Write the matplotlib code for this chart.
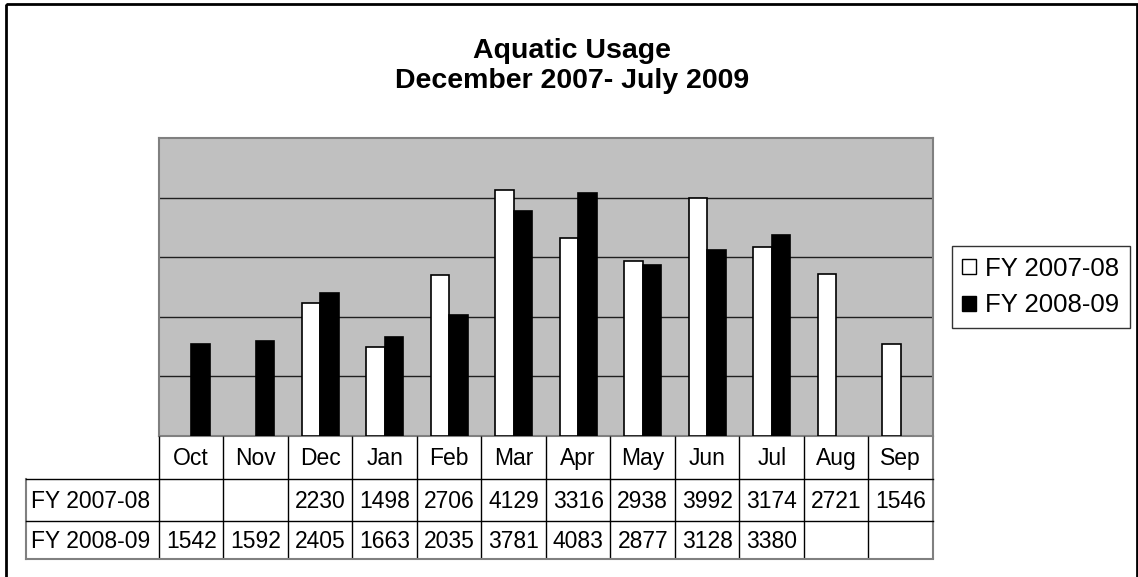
import numpy as np
import matplotlib
matplotlib.use("Agg")
import matplotlib.pyplot as plt
from matplotlib.patches import Patch, Rectangle

plt.rcParams['font.family'] = ['Liberation Sans', 'DejaVu Sans']

# ---- data ----
months = ['Oct', 'Nov', 'Dec', 'Jan', 'Feb', 'Mar', 'Apr', 'May', 'Jun', 'Jul', 'Aug', 'Sep']
fy0708 = [None, None, 2230, 1498, 2706, 4129, 3316, 2938, 3992, 3174, 2721, 1546]
fy0809 = [1542, 1592, 2405, 1663, 2035, 3781, 4083, 2877, 3128, 3380, None, None]
series_names = ['FY 2007-08', 'FY 2008-09']
title = 'Aquatic Usage\nDecember 2007- July 2009'

W, H = 1138, 577
fig = plt.figure(figsize=(W / 100, H / 100), dpi=100)

# plot area in pixels
PL, PR, PT, PB = 159, 933, 138, 436
ax = fig.add_axes([PL / W, 1 - PB / H, (PR - PL) / W, (PB - PT) / H])
ax.set_facecolor('#c0c0c0')
ax.set_xlim(0, len(months))
ax.set_ylim(0, 5000)
ax.set_yticks([1000, 2000, 3000, 4000])
ax.yaxis.grid(True, color='#202020', linewidth=1)
ax.set_axisbelow(True)
ax.set_xticks([])
ax.tick_params(left=False, labelleft=False)
for s in ax.spines.values():
    s.set_color('#808080')
    s.set_linewidth(1.5)

bw = 0.29
x = np.arange(len(months)) + 0.5
for i, (a, b) in enumerate(zip(fy0708, fy0809)):
    if a is not None:
        ax.bar(x[i] - bw / 2, a, bw, color='white', edgecolor='black', linewidth=1.2, zorder=3)
    if b is not None:
        ax.bar(x[i] + bw / 2, b, bw, color='black', edgecolor='black', linewidth=1.2, zorder=3)

# overlay in pixel coordinates for title, table and outer frame
ov = fig.add_axes([0, 0, 1, 1], zorder=5)
ov.set_xlim(0, W)
ov.set_ylim(H, 0)
ov.axis('off')
ov.patch.set_alpha(0)

ov.add_patch(Rectangle((6, 4), 1131, 600, fill=False, edgecolor='black', linewidth=2))
ov.text(572, 66, title, ha='center', va='center', fontsize=20.5, fontweight='bold',
        linespacing=1.15)

# data table
colw = (PR - PL) / len(months)
rows_y = [436, 479, 521, 559]
LBL = 26
tfs = 16.5
for i, m in enumerate(months):
    ov.text(PL + (i + 0.5) * colw, (rows_y[0] + rows_y[1]) / 2 + 1, m,
            ha='center', va='center', fontsize=tfs)
for r, (name, vals) in enumerate(zip(series_names, [fy0708, fy0809])):
    yc = (rows_y[r + 1] + rows_y[r + 2]) / 2 + 1
    ov.text(LBL + 5, yc, name, ha='left', va='center', fontsize=tfs)
    for i, v in enumerate(vals):
        if v is not None:
            ov.text(PL + (i + 0.5) * colw, yc, str(v), ha='center', va='center', fontsize=tfs)

# grid lines of the table
for k in range(len(months) + 1):
    xx = PL + k * colw
    edge = k == len(months)
    ov.plot([xx, xx], [rows_y[0], rows_y[3]], color='#808080' if edge else 'black',
            lw=1.5 if edge else 1, solid_capstyle='butt')
ov.plot([LBL, LBL], [rows_y[1], rows_y[3]], color='#808080', lw=1.5)
ov.plot([LBL, PR], [rows_y[1], rows_y[1]], color='black', lw=1)
ov.plot([LBL, PR], [rows_y[2], rows_y[2]], color='black', lw=1)
ov.plot([LBL, PR], [rows_y[3], rows_y[3]], color='#808080', lw=1.5)

handles = [Patch(facecolor='white', edgecolor='black'),
           Patch(facecolor='black', edgecolor='black')]
leg = fig.legend(handles, series_names, loc='center left',
                 bbox_to_anchor=(952 / W, 1 - 287 / H), fontsize=18.5,
                 frameon=True, fancybox=False, edgecolor='black',
                 handlelength=0.55, handleheight=0.55, handletextpad=0.35,
                 borderpad=0.4, labelspacing=0.5, borderaxespad=0)
leg.get_frame().set_linewidth(1)

fig.savefig('out.png', dpi=100)
